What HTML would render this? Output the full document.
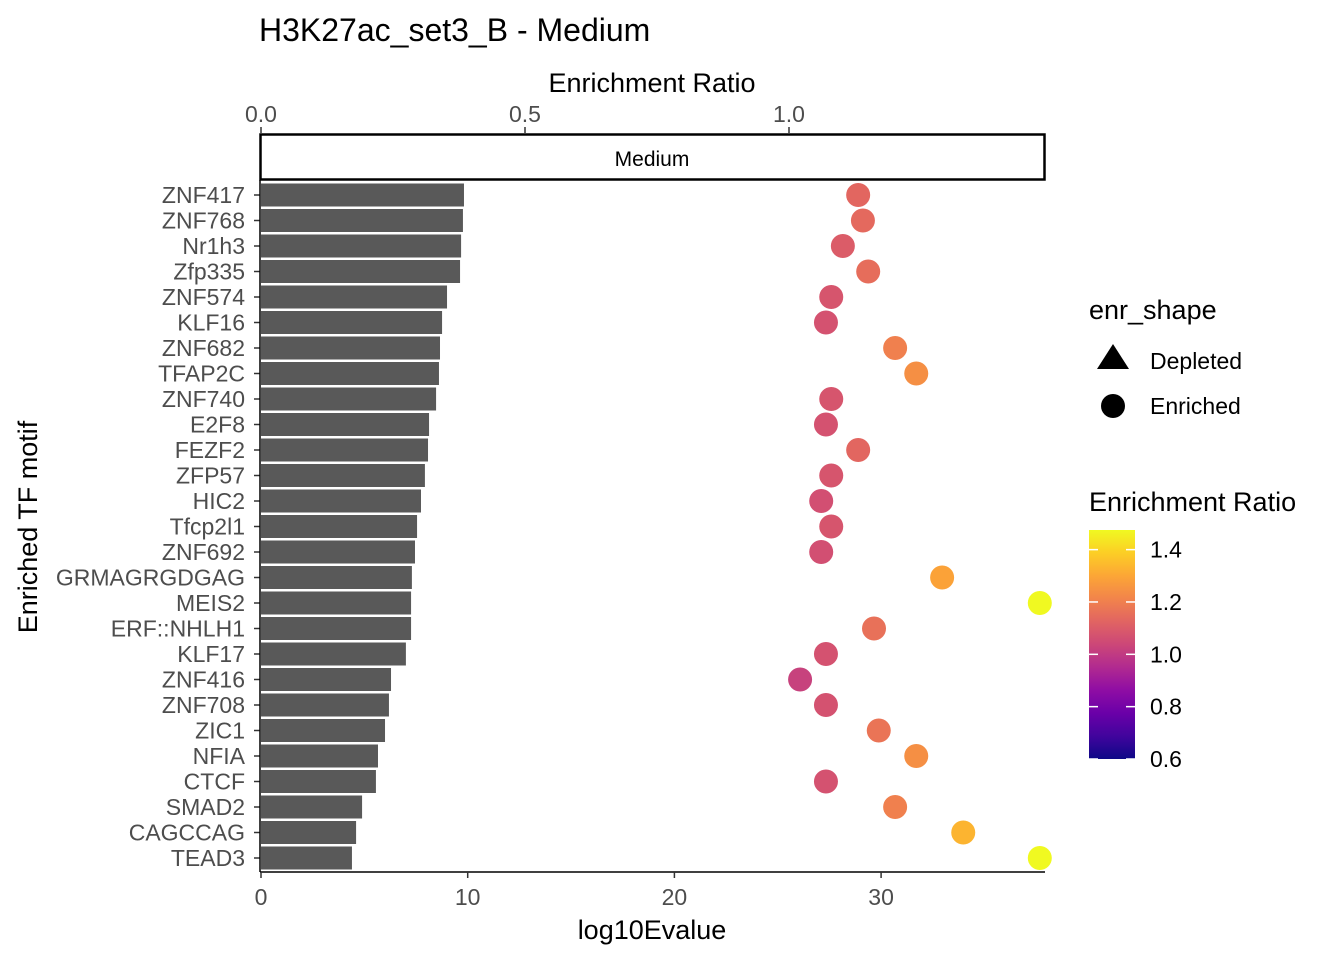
<!DOCTYPE html>
<html><head><meta charset="utf-8"><style>
body{margin:0;background:#fff}
svg text{font-family:"Liberation Sans",Arial,sans-serif}
</style></head><body>
<svg id="c" width="1344" height="960" xmlns="http://www.w3.org/2000/svg">
<text x="259" y="41" font-size="32" fill="#000">H3K27ac_set3_B - Medium</text>
<text x="652" y="92" font-size="27" text-anchor="middle">Enrichment Ratio</text>
<text x="652" y="939" font-size="27" text-anchor="middle">log10Evalue</text>
<text transform="translate(37,527) rotate(-90)" font-size="27" text-anchor="middle">Enriched TF motif</text>
<rect x="260.5" y="134.5" width="784" height="45" fill="#fff" stroke="#000" stroke-width="2.5"/>
<text x="652" y="166" font-size="21" text-anchor="middle">Medium</text>
<g id="bars"></g><g id="pts"></g><g id="axes"></g>
<text x="1089" y="319" font-size="27">enr_shape</text>
<polygon points="1113,344 1097,369 1129,369" fill="#000"/>
<text x="1150" y="369" font-size="23">Depleted</text>
<circle cx="1113" cy="406" r="12" fill="#000"/>
<text x="1150" y="414" font-size="23">Enriched</text>
<text x="1089" y="511" font-size="27">Enrichment Ratio</text>
<defs><linearGradient id="pl" x1="0" y1="1" x2="0" y2="0">
<stop offset="0" stop-color="#0d0887"/><stop offset="0.1" stop-color="#41049d"/><stop offset="0.2" stop-color="#6a00a8"/><stop offset="0.3" stop-color="#8f0da4"/><stop offset="0.4" stop-color="#b12a90"/><stop offset="0.5" stop-color="#cc4778"/><stop offset="0.6" stop-color="#e16462"/><stop offset="0.7" stop-color="#f2844b"/><stop offset="0.8" stop-color="#fca636"/><stop offset="0.9" stop-color="#fcce25"/><stop offset="1" stop-color="#f0f921"/></linearGradient></defs>
<rect x="1089" y="530" width="46" height="229" fill="url(#pl)"/>
<g id="cbt"></g>
</svg>
<script>
const motifs=["ZNF417","ZNF768","Nr1h3","Zfp335","ZNF574","KLF16","ZNF682","TFAP2C","ZNF740","E2F8","FEZF2","ZFP57","HIC2","Tfcp2l1","ZNF692","GRMAGRGDGAG","MEIS2","ERF::NHLH1","KLF17","ZNF416","ZNF708","ZIC1","NFIA","CTCF","SMAD2","CAGCCAG","TEAD3"];
const log10E=[9.82,9.77,9.68,9.63,9.0,8.76,8.66,8.61,8.47,8.13,8.08,7.93,7.74,7.55,7.45,7.3,7.26,7.26,7.01,6.29,6.19,6.0,5.66,5.56,4.89,4.6,4.4];
const ratio=[1.131,1.140,1.102,1.150,1.080,1.070,1.201,1.241,1.080,1.070,1.131,1.080,1.061,1.080,1.061,1.290,1.475,1.161,1.070,1.021,1.070,1.170,1.241,1.070,1.201,1.330,1.475];
const xTicks=[0,10,20,30];
const topTicks=[0.0,0.5,1.0];
const cbTicks=[0.6,0.8,1.0,1.2,1.4];
const NS="http://www.w3.org/2000/svg";
const x=v=>261+v*20.67, xt=v=>261+v*528, y=i=>195+i*25.5;
const cMin=0.6,cMax=1.475, cy=v=>759-(v-cMin)/(cMax-cMin)*229;
const stops=[[0,[13,8,135]],[.1,[65,4,157]],[.2,[106,0,168]],[.3,[143,13,164]],[.4,[177,42,144]],[.5,[204,71,120]],[.6,[225,100,98]],[.7,[242,132,75]],[.8,[252,166,54]],[.9,[252,206,37]],[1,[240,249,33]]];
function col(v){let t=Math.max(0,Math.min(1,(v-cMin)/(cMax-cMin)));for(let k=1;k<stops.length;k++){if(t<=stops[k][0]){const a=stops[k-1],b=stops[k],f=(t-a[0])/(b[0]-a[0]);return "rgb("+a[1].map((c,j)=>Math.round(c+(b[1][j]-c)*f)).join(",")+")";}}return "rgb(240,249,33)";}
function mk(p,tag,at){const e=document.createElementNS(NS,tag);for(const k in at)e.setAttribute(k,at[k]);document.getElementById(p).appendChild(e);return e;}
motifs.forEach((m,i)=>{
 const r=mk("bars","rect",{x:x(0),y:y(i)-11.5,width:x(log10E[i])-x(0),height:23,fill:"#595959"});
 
 
 const c=mk("pts","circle",{cx:Math.min(xt(ratio[i]),1040),cy:y(i),r:12,fill:col(ratio[i])});
 
 
 const t=mk("axes","text",{x:245,y:y(i)+8,"font-size":23,"text-anchor":"end",fill:"#4d4d4d"});t.textContent=m;
 
 
 const tk=mk("axes","line",{x1:254,x2:260,y1:y(i),y2:y(i),stroke:"#333","stroke-width":1.5});
 
 
});
const yl=mk("axes","line",{x1:260,x2:260,y1:180,y2:872,stroke:"#000","stroke-width":1.5});


const xl=mk("axes","line",{x1:260,x2:1045,y1:872,y2:872,stroke:"#000","stroke-width":1.5});


xTicks.forEach(v=>{
 const l=mk("axes","line",{x1:x(v),x2:x(v),y1:872,y2:878,stroke:"#333","stroke-width":1.5});
 
 
 const t=mk("axes","text",{x:x(v),y:905,"font-size":23,"text-anchor":"middle",fill:"#4d4d4d"});t.textContent=v;
 
 
});
topTicks.forEach(v=>{
 const l=mk("axes","line",{x1:xt(v),x2:xt(v),y1:127,y2:133,stroke:"#333","stroke-width":1.5});
 
 
 const t=mk("axes","text",{x:xt(v),y:122,"font-size":23,"text-anchor":"middle",fill:"#4d4d4d"});t.textContent=v.toFixed(1);
 
 
});
cbTicks.forEach(v=>{
 const yy=cy(v);
 const a=mk("cbt","line",{x1:1089,x2:1098,y1:yy,y2:yy,stroke:"#fff","stroke-width":1.5});
 
 
 const b=mk("cbt","line",{x1:1126,x2:1135,y1:yy,y2:yy,stroke:"#fff","stroke-width":1.5});
 
 
 const t=mk("cbt","text",{x:1150,y:yy+8,"font-size":23});t.textContent=v.toFixed(1);
 
 
});
</script>
</body></html>
